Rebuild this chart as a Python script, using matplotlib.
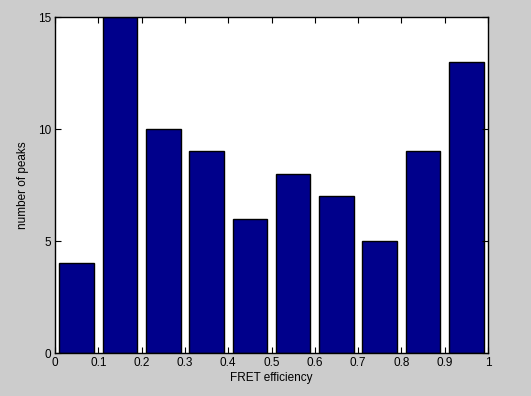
import matplotlib
matplotlib.use('Agg')
import matplotlib.pyplot as plt

# histogram of FRET efficiency
bin_centers = [0.05, 0.15, 0.25, 0.35, 0.45, 0.55, 0.65, 0.75, 0.85, 0.95]
counts = [4, 15, 10, 9, 6, 8, 7, 5, 9, 13]
x_ticks = [0, 0.1, 0.2, 0.3, 0.4, 0.5, 0.6, 0.7, 0.8, 0.9, 1]
x_tick_labels = ['0', '0.1', '0.2', '0.3', '0.4', '0.5', '0.6', '0.7', '0.8', '0.9', '1']
y_ticks = [0, 5, 10, 15]

plt.rcParams['font.family'] = ['Liberation Sans', 'DejaVu Sans']

fig = plt.figure(figsize=(5.31, 3.96), dpi=100, facecolor='#cccccc')
ax = fig.add_axes([55/531, 43/396, 433/531, 336/396])
ax.bar(bin_centers, counts, width=0.08, color='#00008b', edgecolor='black', linewidth=1)

ax.set_xlim(0, 1)
ax.set_ylim(0, 15)
ax.set_xticks(x_ticks)
ax.set_xticklabels(x_tick_labels)
ax.set_yticks(y_ticks)
ax.tick_params(direction='in', top=True, right=True, labelsize=8.5, length=4, pad=3)
for s in ax.spines.values():
    s.set_linewidth(1)
ax.set_xlabel('FRET efficiency', fontsize=8.5, labelpad=2)
ax.set_ylabel('number of peaks', fontsize=8.5, labelpad=6)

fig.savefig('out.png', dpi=100, facecolor=fig.get_facecolor())
